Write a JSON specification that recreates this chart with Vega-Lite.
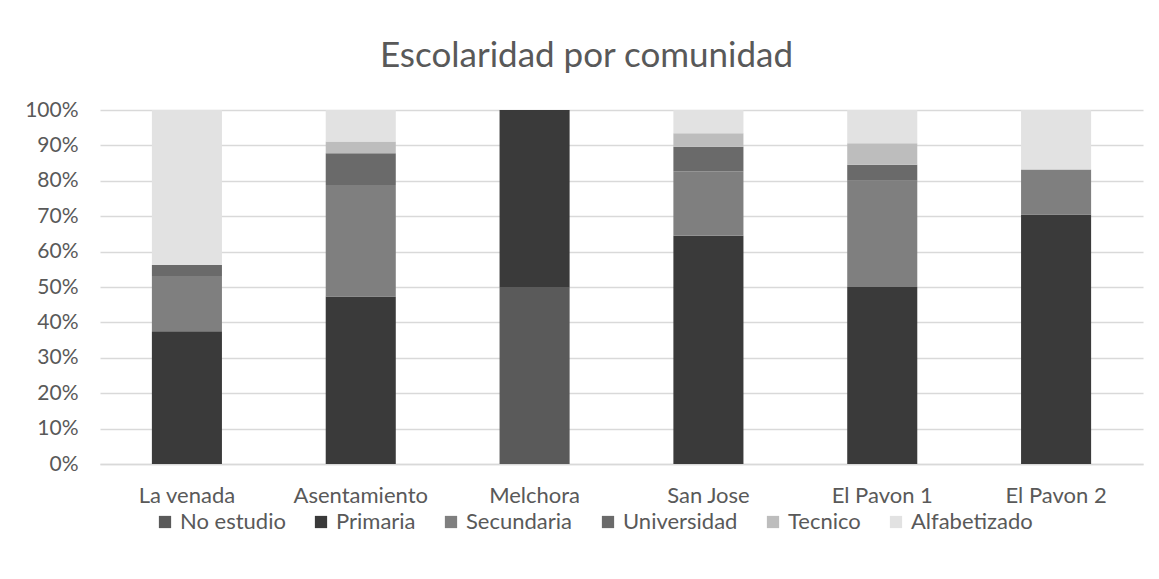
{
  "$schema": "https://vega.github.io/schema/vega-lite/v6.json",
  "width": 1043,
  "height": 354,
  "autosize": {"type": "none"},
  "padding": {"left": 100, "top": 110, "right": 16, "bottom": 115},
  "background": "white",
  "title": {
    "text": "Escolaridad por comunidad",
    "anchor": "middle",
    "dx": -35,
    "offset": 25,
    "font": "Lato",
    "fontSize": 35,
    "fontWeight": "normal",
    "color": "#595959"
  },
  "data": {
    "values": [
      {"comunidad": "La venada", "nivel": "Primaria", "valor": 0.375},
      {"comunidad": "La venada", "nivel": "Secundaria", "valor": 0.156},
      {"comunidad": "La venada", "nivel": "Universidad", "valor": 0.031},
      {"comunidad": "La venada", "nivel": "Alfabetizado", "valor": 0.438},
      {"comunidad": "Asentamiento", "nivel": "Primaria", "valor": 0.473},
      {"comunidad": "Asentamiento", "nivel": "Secundaria", "valor": 0.315},
      {"comunidad": "Asentamiento", "nivel": "Universidad", "valor": 0.09},
      {"comunidad": "Asentamiento", "nivel": "Tecnico", "valor": 0.033},
      {"comunidad": "Asentamiento", "nivel": "Alfabetizado", "valor": 0.089},
      {"comunidad": "Melchora", "nivel": "No estudio", "valor": 0.5},
      {"comunidad": "Melchora", "nivel": "Primaria", "valor": 0.5},
      {"comunidad": "San Jose", "nivel": "Primaria", "valor": 0.645},
      {"comunidad": "San Jose", "nivel": "Secundaria", "valor": 0.181},
      {"comunidad": "San Jose", "nivel": "Universidad", "valor": 0.07},
      {"comunidad": "San Jose", "nivel": "Tecnico", "valor": 0.038},
      {"comunidad": "San Jose", "nivel": "Alfabetizado", "valor": 0.066},
      {"comunidad": "El Pavon 1", "nivel": "Primaria", "valor": 0.5},
      {"comunidad": "El Pavon 1", "nivel": "Secundaria", "valor": 0.3},
      {"comunidad": "El Pavon 1", "nivel": "Universidad", "valor": 0.045},
      {"comunidad": "El Pavon 1", "nivel": "Tecnico", "valor": 0.061},
      {"comunidad": "El Pavon 1", "nivel": "Alfabetizado", "valor": 0.094},
      {"comunidad": "El Pavon 2", "nivel": "Primaria", "valor": 0.705},
      {"comunidad": "El Pavon 2", "nivel": "Secundaria", "valor": 0.127},
      {"comunidad": "El Pavon 2", "nivel": "Alfabetizado", "valor": 0.168}
    ]
  },
  "transform": [
    {"calculate": "indexof(['No estudio', 'Primaria', 'Secundaria', 'Universidad', 'Tecnico', 'Alfabetizado'], datum.nivel)", "as": "orden"}
  ],
  "mark": {"type": "bar"},
  "encoding": {
    "x": {
      "field": "comunidad",
      "type": "nominal",
      "sort": ["La venada", "Asentamiento", "Melchora", "San Jose", "El Pavon 1", "El Pavon 2"],
      "scale": {"paddingInner": 0.597, "paddingOuter": 0.2985},
      "axis": {
        "title": null,
        "labelAngle": 0,
        "labelFont": "Lato",
        "labelFontSize": 22,
        "labelColor": "#595959",
        "labelPadding": 21,
        "ticks": false,
        "domainColor": "#d9d9d9",
        "domainWidth": 1.5
      }
    },
    "y": {
      "field": "valor",
      "type": "quantitative",
      "stack": "zero",
      "scale": {"domain": [0, 1]},
      "axis": {
        "title": null,
        "format": ".0%",
        "values": [0, 0.1, 0.2, 0.3, 0.4, 0.5, 0.6, 0.7, 0.8, 0.9, 1],
        "labelOverlap": false,
        "labelFont": "Lato",
        "labelFontSize": 21,
        "labelColor": "#595959",
        "labelPadding": 22,
        "ticks": false,
        "domain": false,
        "gridColor": "#d9d9d9",
        "gridWidth": 1.5
      }
    },
    "order": {"field": "orden", "type": "quantitative", "sort": "ascending"},
    "color": {
      "field": "nivel",
      "type": "nominal",
      "sort": ["No estudio", "Primaria", "Secundaria", "Universidad", "Tecnico", "Alfabetizado"],
      "scale": {
        "domain": ["No estudio", "Primaria", "Secundaria", "Universidad", "Tecnico", "Alfabetizado"],
        "range": ["#5a5a5a", "#3a3a3a", "#7f7f7f", "#6a6a6a", "#bdbdbd", "#e2e2e2"]
      },
      "legend": {
        "title": null,
        "orient": "none",
        "direction": "horizontal",
        "legendX": 54,
        "legendY": 401,
        "symbolType": "square",
        "symbolSize": 150,
        "symbolStrokeWidth": 0,
        "labelFont": "Lato",
        "labelFontSize": 22,
        "labelColor": "#595959",
        "labelOffset": 4,
        "columnPadding": 24
      }
    }
  },
  "config": {
    "view": {"stroke": null}
  }
}
